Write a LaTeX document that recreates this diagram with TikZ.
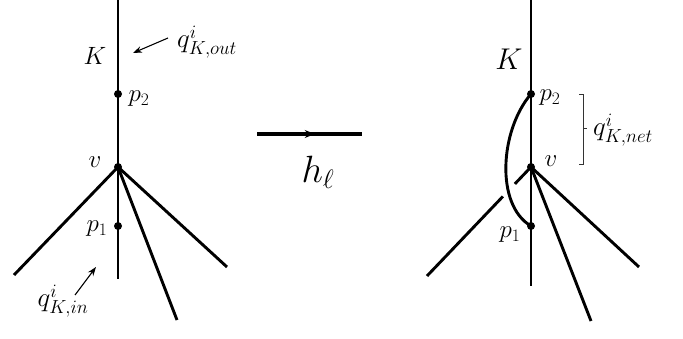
\RequirePackage{fix-cm}
\documentclass[tikz,border=0pt]{standalone}
\usetikzlibrary{arrows.meta,decorations.markings,calc}
\begin{document}
\begin{tikzpicture}[x=1pt,y=-1pt,
  edge/.style={line width=2.9pt},
  pt/.style={circle,fill=black,inner sep=0pt,minimum size=8pt},
  lbl/.style={inner sep=0pt,font=\fontsize{25}{30}\selectfont},
  qlbl/.style={inner sep=0pt,font=\fontsize{27}{32}\selectfont},
  thinarrow/.style={line width=1.1pt,-{Stealth[length=9pt,width=6.5pt]}},
  midarrow/.style={line width=3.2pt,postaction={decorate},decoration={markings,mark=at position 0.55 with {\arrow{Stealth[length=10pt,width=8pt]}}}}]
\useasboundingbox (0,0) rectangle (683,339);
% ---------- left ----------
\coordinate (Ltop) at (118,0);
\coordinate (Lbot) at (118,279);
\node[pt] (Lv) at (118,167) {};
\node[pt] (Lp2) at (118,94) {};
\node[pt] (Lp1) at (118,226) {};
\coordinate (La) at (14,275);
\coordinate (Lb) at (177,320);
\coordinate (Lc) at (227,267);
\draw[edge] (Ltop) -- (Lbot);
\draw[edge] (Lv.center) -- (La);
\draw[edge] (Lv.center) -- (Lb);
\draw[edge] (Lv.center) -- (Lc);
\node[lbl] (LK) at (95,56) {$K$};
\node[lbl] (Lp2l) at (139,99) {$p_2$};
\node[lbl] (Lvl) at (95,162) {$v$};
\node[lbl] (Lp1l) at (97,229) {$p_1$};
\node[qlbl] (qout) at (207,42) {$q^{i}_{K,out}$};
\node[qlbl] (qin) at (63,301) {$q^{i}_{K,in}$};
\coordinate (qoutA) at (168,38);
\coordinate (qoutB) at (133,53);
\coordinate (qinA) at (75,295);
\coordinate (qinB) at (96,267);
\draw[thinarrow] (qoutA) -- (qoutB);
\draw[thinarrow] (qinA) -- (qinB);
% ---------- middle ----------
\coordinate (hA) at (257,134);
\coordinate (hB) at (362,134);
\draw[midarrow] (hA) -- (hB);
\node[inner sep=0pt,font=\fontsize{38}{44}\selectfont] (h) at (318,172) {$h_\ell$};
% ---------- right ----------
\coordinate (Rtop) at (531,0);
\coordinate (Rbot) at (531,286);
\node[pt] (Rv) at (531,167) {};
\node[pt] (Rp2) at (531,94) {};
\node[pt] (Rp1) at (531,226) {};
\coordinate (Ra) at (427,276);
\coordinate (Rb) at (591,321);
\coordinate (Rc) at (639,267);
\draw[edge] (Rtop) -- (Rbot);
\draw[edge] (Rv.center) -- ($(Rv.center)!0.155!(Ra)$);
\draw[edge] ($(Rv.center)!0.27!(Ra)$) -- (Ra);
\draw[edge] (Rv.center) -- (Rb);
\draw[edge] (Rv.center) -- (Rc);
\draw[edge] (Rp2.center) .. controls (500,130) and (495,205) .. (Rp1.center);
\node[lbl,font=\fontsize{30}{34}\selectfont] (RK) at (509,59) {$K$};
\node[lbl] (Rp2l) at (550,98) {$p_2$};
\node[lbl] (Rvl) at (551,161) {$v$};
\node[lbl] (Rp1l) at (510,235) {$p_1$};
\node[qlbl] (qnet) at (623,130) {$q^{i}_{K,net}$};
\coordinate (brT) at (579,94);
\coordinate (brB) at (579,164);
\draw[line width=0.9pt,black!80] (brT) -- ++(4,0) -- ($(brB)+(4,0)$) -- (brB);
\draw[line width=0.9pt,black!80] (583,128) -- (587,128);
\end{tikzpicture}
\end{document}
